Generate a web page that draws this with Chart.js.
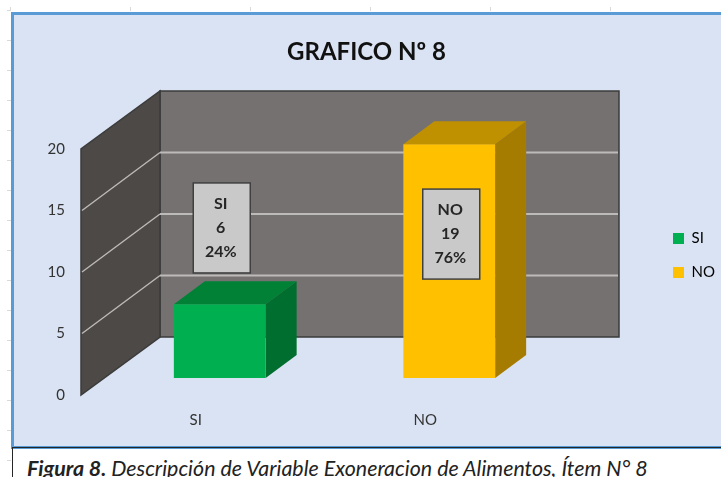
<!DOCTYPE html>
<html lang="es">
<head>
  <meta charset="UTF-8">
  <title>GRAFICO Nº 8</title>
  <script src="https://cdn.jsdelivr.net/npm/chart.js"></script>
  <style>
    html, body { margin: 0; padding: 0; background: #fff; overflow: hidden; }
    #page { position: relative; width: 721px; height: 477px; overflow: hidden; }
    /* ruler marks of the document behind the chart */
    #rulerLeft { position: absolute; left: 7px; top: 10px; width: 4px; height: 467px;
      background: repeating-linear-gradient(to bottom, #d9d9d9 0 1px, transparent 1px 30px); }
    #rulerTop { position: absolute; left: 10px; top: 7px; width: 711px; height: 4px;
      background: repeating-linear-gradient(to right, #d9d9d9 0 1px, transparent 1px 120px); }
    #frame { position: absolute; left: 11px; top: 12px; width: 720px; height: 431px;
      background: #dae3f3; border: 3px solid #5b9bd5; box-sizing: content-box; }
    #rule { position: absolute; left: 12px; top: 447px; width: 709px; height: 30px;
      border-top: 1.5px solid #262626; border-left: 1.5px solid #262626; box-sizing: border-box; }
    #caption { position: absolute; left: 27px; top: 455px; white-space: nowrap;
      font: italic 21.4px Lato, sans-serif; color: #222; }
    #caption b { font-weight: bold; }
    canvas { position: absolute; left: 0; top: 0; }
  </style>
</head>
<body>
<div id="page">
  <div id="rulerLeft"></div>
  <div id="rulerTop"></div>
  <div id="frame"></div>
  <div id="rule"></div>
  <div id="caption"><b>Figura 8.</b> Descripción de Variable Exoneracion de Alimentos, Ítem N° 8</div>
  <canvas id="chart" width="721" height="477"></canvas>
</div>

<script>
  const categories = ['SI', 'NO'];
  const counts = [6, 19];
  const percents = ['24%', '76%'];
  const yTicks = [0, 5, 10, 15, 20];
  const titleText = 'GRAFICO Nº 8';

  const frontColors = ['#00b050', '#ffc000'];
  const topColors = ['#008136', '#bf9000'];
  const sideColors = ['#006e2e', '#a67c00'];

  // height of the grey value boxes, in axis units
  const boxLevels = [12.2, 11.7];

  // 3D projection, in pixels
  const wallDepth = { x: 79, y: -58 };
  const barShift = { x: 24, y: -17 };
  const barDepth = { x: 31, y: -23 };

  const walls3d = {
    id: 'walls3d',
    afterLayout(chart) {
      // title and legend sit outside the plot, move them where the picture has them
      const t = chart.titleBlock;
      t.left = 0; t.right = 733;
      const l = chart.legend;
      l.left = 654; l.right = 721; l.top = 211; l.bottom = 300;
      l.adjustHitBoxes();
    },
    beforeDatasetsDraw(chart) {
      const { ctx, chartArea: a, scales: { y } } = chart;
      const bx = a.left + wallDepth.x;
      const rx = a.right + wallDepth.x;
      const backTop = y.getPixelForValue(20) + wallDepth.y;
      const backBottom = y.getPixelForValue(0) + wallDepth.y;

      ctx.save();
      ctx.fillStyle = '#767171';
      ctx.fillRect(bx, backTop, rx - bx, backBottom - backTop);
      ctx.strokeStyle = '#3b3b3b';
      ctx.lineWidth = 1.5;
      ctx.strokeRect(bx, backTop, rx - bx, backBottom - backTop);

      ctx.beginPath();
      ctx.moveTo(a.left, y.getPixelForValue(0));
      ctx.lineTo(a.left, y.getPixelForValue(20));
      ctx.lineTo(bx, backTop);
      ctx.lineTo(bx, backBottom);
      ctx.closePath();
      ctx.fillStyle = '#4d4946';
      ctx.fill();
      ctx.stroke();

      ctx.strokeStyle = '#bdbbb9';
      yTicks.slice(1, -1).forEach(v => {
        const py = y.getPixelForValue(v);
        ctx.lineWidth = 1.4;
        ctx.beginPath();
        ctx.moveTo(a.left + 1, py);
        ctx.lineTo(bx, py + wallDepth.y);
        ctx.stroke();
        ctx.lineWidth = 2;
        ctx.beginPath();
        ctx.moveTo(bx, py + wallDepth.y);
        ctx.lineTo(rx - 1, py + wallDepth.y);
        ctx.stroke();
      });
      ctx.restore();
    },
    beforeDatasetDraw(chart, args) {
      const { ctx } = chart;
      ctx.save();
      ctx.translate(barShift.x, barShift.y);
      args.meta.data.forEach((bar, i) => {
        const left = bar.x - bar.width / 2;
        const right = bar.x + bar.width / 2;
        ctx.fillStyle = sideColors[i];
        ctx.beginPath();
        ctx.moveTo(right, bar.y);
        ctx.lineTo(right + barDepth.x, bar.y + barDepth.y);
        ctx.lineTo(right + barDepth.x, bar.base + barDepth.y);
        ctx.lineTo(right, bar.base);
        ctx.closePath();
        ctx.fill();
        ctx.fillStyle = topColors[i];
        ctx.beginPath();
        ctx.moveTo(left, bar.y);
        ctx.lineTo(left + barDepth.x, bar.y + barDepth.y);
        ctx.lineTo(right + barDepth.x, bar.y + barDepth.y);
        ctx.lineTo(right, bar.y);
        ctx.closePath();
        ctx.fill();
      });
    },
    afterDatasetDraw(chart) {
      chart.ctx.restore();
    },
    afterDatasetsDraw(chart) {
      const { ctx, scales: { y } } = chart;
      const meta = chart.getDatasetMeta(0);
      const w = 57, h = 90;
      meta.data.forEach((bar, i) => {
        const cx = bar.x + barShift.x + 2;
        const cy = y.getPixelForValue(boxLevels[i]) + barShift.y;
        ctx.save();
        ctx.fillStyle = '#c9c9c9';
        ctx.strokeStyle = '#404040';
        ctx.lineWidth = 1.5;
        ctx.fillRect(cx - w / 2, cy - h / 2, w, h);
        ctx.strokeRect(cx - w / 2, cy - h / 2, w, h);
        ctx.fillStyle = '#262626';
        ctx.font = 'bold 16px Lato, sans-serif';
        ctx.textAlign = 'center';
        ctx.textBaseline = 'middle';
        ctx.fillText(categories[i], cx - 1, cy - 24);
        ctx.fillText(String(counts[i]), cx - 1, cy);
        ctx.fillText(percents[i], cx - 1, cy + 24);
        ctx.restore();
      });
    }
  };

  new Chart(document.getElementById('chart'), {
    type: 'bar',
    data: {
      labels: categories,
      datasets: [{
        label: 'Exoneracion de Alimentos',
        data: counts,
        backgroundColor: frontColors,
        barPercentage: 0.4,
        categoryPercentage: 1,
        clip: false
      }]
    },
    options: {
      responsive: false,
      animation: false,
      events: [],
      layout: { padding: { left: 0, right: 181, top: 0, bottom: 0 } },
      scales: {
        x: {
          grid: { display: false },
          border: { display: false },
          afterFit: s => { s.height = 82; },
          ticks: { color: '#333', padding: 8, maxRotation: 0, font: { family: 'Lato', size: 15 } }
        },
        y: {
          min: 0,
          max: 20,
          afterFit: s => { s.width = 81; },
          afterBuildTicks: s => { s.ticks = yTicks.map(v => ({ value: v })); },
          grid: { display: false },
          border: { display: false },
          ticks: { color: '#333', padding: 8, font: { family: 'Lato', size: 15 } }
        }
      },
      plugins: {
        title: {
          display: true,
          text: titleText,
          color: '#111',
          font: { family: 'Lato', size: 24, weight: 'bold', lineHeight: 1 },
          padding: { top: 40, bottom: 85 }
        },
        legend: {
          position: 'chartArea',
          labels: {
            boxWidth: 11,
            boxHeight: 11,
            padding: 19,
            color: '#333',
            font: { family: 'Lato', size: 15 },
            generateLabels: () => categories.map((c, i) => ({
              text: c,
              fillStyle: frontColors[i],
              strokeStyle: frontColors[i],
              lineWidth: 0,
              datasetIndex: 0,
              index: i
            }))
          }
        },
        tooltip: { enabled: false }
      }
    },
    plugins: [walls3d]
  });
</script>
</body>
</html>
